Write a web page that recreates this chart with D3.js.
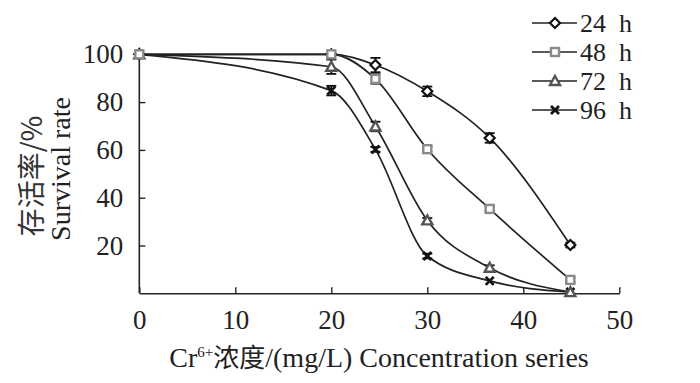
<!DOCTYPE html>
<html><head><meta charset="utf-8">
<script src="https://cdn.jsdelivr.net/npm/d3@7/dist/d3.min.js"></script>
<style>body{margin:0;background:#fff}svg{display:block}</style>
</head><body><svg id="c" width="700" height="383"></svg>
<script>
const concentrations = [0, 20, 24.6, 30, 36.5, 44.9];
const seriesNames = ["24 h", "48 h", "72 h", "96 h"];
const survival24 = [100, 100, 95.5, 84.5, 65, 20.2];
const survival48 = [100, 100, 89.7, 60.3, 35.3, 5.6];
const survival72 = [100, 94.8, 69.8, 30.5, 10.7, 0.5];
const survival96 = [100, 84.8, 60.2, 15.6, 5.2, 0.5];
const err24 = [0, 0, 3, 2, 2, 1];
const err48 = [0, 0, 2, 1, 1, 1];
const err72 = [0, 3, 2, 1, 1, 0];
const err96 = [0, 2, 1, 1, 0, 0];
const xTicks = [0, 10, 20, 30, 40, 50];
const yTicks = [20, 40, 60, 80, 100];

const svg = d3.select("#c");
const x = d3.scaleLinear().domain([0, 50]).range([139.3, 619.3]);
const y = d3.scaleLinear().domain([0, 100]).range([293.3, 54.3]);
const serif = "'Liberation Serif','DejaVu Serif',serif";
const ink = "#222";

// axes
const xAxis = svg.append("g").attr("transform", `translate(0,${y(0)})`)
  .call(d3.axisBottom(x).tickValues(xTicks).tickSizeInner(-6).tickSizeOuter(0).tickPadding(17));
xAxis.select(".domain").attr("stroke", ink).attr("stroke-width", 1.6);
xAxis.selectAll(".tick line").attr("stroke", ink).attr("stroke-width", 1.4);
xAxis.selectAll(".tick text").attr("font-family", serif).attr("font-size", 27).attr("fill", ink);

const yAxis = svg.append("g").attr("transform", `translate(${x(0)},0)`)
  .call(d3.axisLeft(y).tickValues(yTicks).tickSizeInner(-6).tickSizeOuter(0).tickPadding(16));
yAxis.select(".domain").attr("stroke", ink).attr("stroke-width", 1.6)
  .attr("d", `M0,${y(0)}V${y(100)}`);
yAxis.selectAll(".tick line").attr("stroke", ink).attr("stroke-width", 1.4);
yAxis.selectAll(".tick text").attr("font-family", serif).attr("font-size", 27).attr("fill", ink);

// series
const values = [survival24, survival48, survival72, survival96];
const errs = [err24, err48, err72, err96];
const line = d3.line().x(d => x(d[0])).y(d => y(d[1])).curve(d3.curveMonotoneX);

values.forEach((vals, i) => {
  const pts = concentrations.map((c, j) => [c, vals[j]]);
  svg.append("path").attr("d", line(pts)).attr("fill", "none").attr("stroke", ink).attr("stroke-width", 1.7);
});

// error bars
values.forEach((vals, i) => {
  concentrations.forEach((c, j) => {
    const e = errs[i][j];
    if (!e) return;
    const g = svg.append("g").attr("stroke", "#111").attr("stroke-width", 1.8);
    g.append("line").attr("x1", x(c)).attr("x2", x(c)).attr("y1", y(vals[j] - e)).attr("y2", y(vals[j] + e));
    [vals[j] - e, vals[j] + e].forEach(v => g.append("line").attr("x1", x(c) - 5).attr("x2", x(c) + 5).attr("y1", y(v)).attr("y2", y(v)));
  });
});

function marker(g, i, cx, cy) {
  if (i === 0) {
    g.append("path").attr("d", `M${cx},${cy-5}L${cx+5},${cy}L${cx},${cy+5}L${cx-5},${cy}Z`)
      .attr("fill", "#fff").attr("stroke", "#111").attr("stroke-width", 2.2);
  } else if (i === 1) {
    g.append("rect").attr("x", cx - 4).attr("y", cy - 4).attr("width", 8).attr("height", 8)
      .attr("fill", "#fff").attr("stroke", "#8a8a8a").attr("stroke-width", 2.4);
  } else if (i === 2) {
    g.append("path").attr("d", `M${cx},${cy-5}L${cx+5},${cy+4}L${cx-5},${cy+4}Z`)
      .attr("fill", "#fff").attr("stroke", "#555").attr("stroke-width", 2.4);
  } else {
    g.append("path").attr("d", `M${cx-4},${cy-4}L${cx+4},${cy+4}M${cx+4},${cy-4}L${cx-4},${cy+4}`)
      .attr("stroke", "#111").attr("stroke-width", 2.8);
  }
}

const order = [3, 2, 0, 1];
order.forEach(i => {
  concentrations.forEach((c, j) => marker(svg.append("g"), i, x(c), y(values[i][j])));
});

// legend
const legY = [23, 52, 81, 110];
seriesNames.forEach((name, i) => {
  const g = svg.append("g");
  g.append("line").attr("x1", 532).attr("x2", 577).attr("y1", legY[i]).attr("y2", legY[i])
    .attr("stroke", ink).attr("stroke-width", 1.4);
  marker(g, i, 555, legY[i]);
  g.append("text").attr("x", 580).attr("y", legY[i] + 9).attr("font-family", serif)
    .attr("font-size", 26).attr("fill", ink).attr("xml:space", "preserve").text(name.replace(" ", "  "));
});

// axis titles
const xt = svg.append("text").attr("x", 379).attr("y", 367).attr("text-anchor", "middle")
  .attr("font-family", serif).attr("font-size", 28).attr("fill", ink);
xt.append("tspan").text("Cr");
xt.append("tspan").attr("font-size", 15).attr("dy", -10).text("6+");
xt.append("tspan").attr("dy", 10).attr("font-family", "'Noto Sans CJK SC'").attr("font-size", 26).text("浓度");
xt.append("tspan").text("/(mg/L) Concentration series");

svg.append("text").attr("transform", "translate(42,176) rotate(-90)").attr("text-anchor", "middle")
  .attr("font-family", "'Noto Sans CJK SC'").attr("font-size", 28).attr("fill", "#333").text("存活率/%");
svg.append("text").attr("transform", "translate(70,169) rotate(-90)").attr("text-anchor", "middle")
  .attr("font-family", serif).attr("font-size", 28).attr("fill", ink).text("Survival rate");
</script></body></html>
